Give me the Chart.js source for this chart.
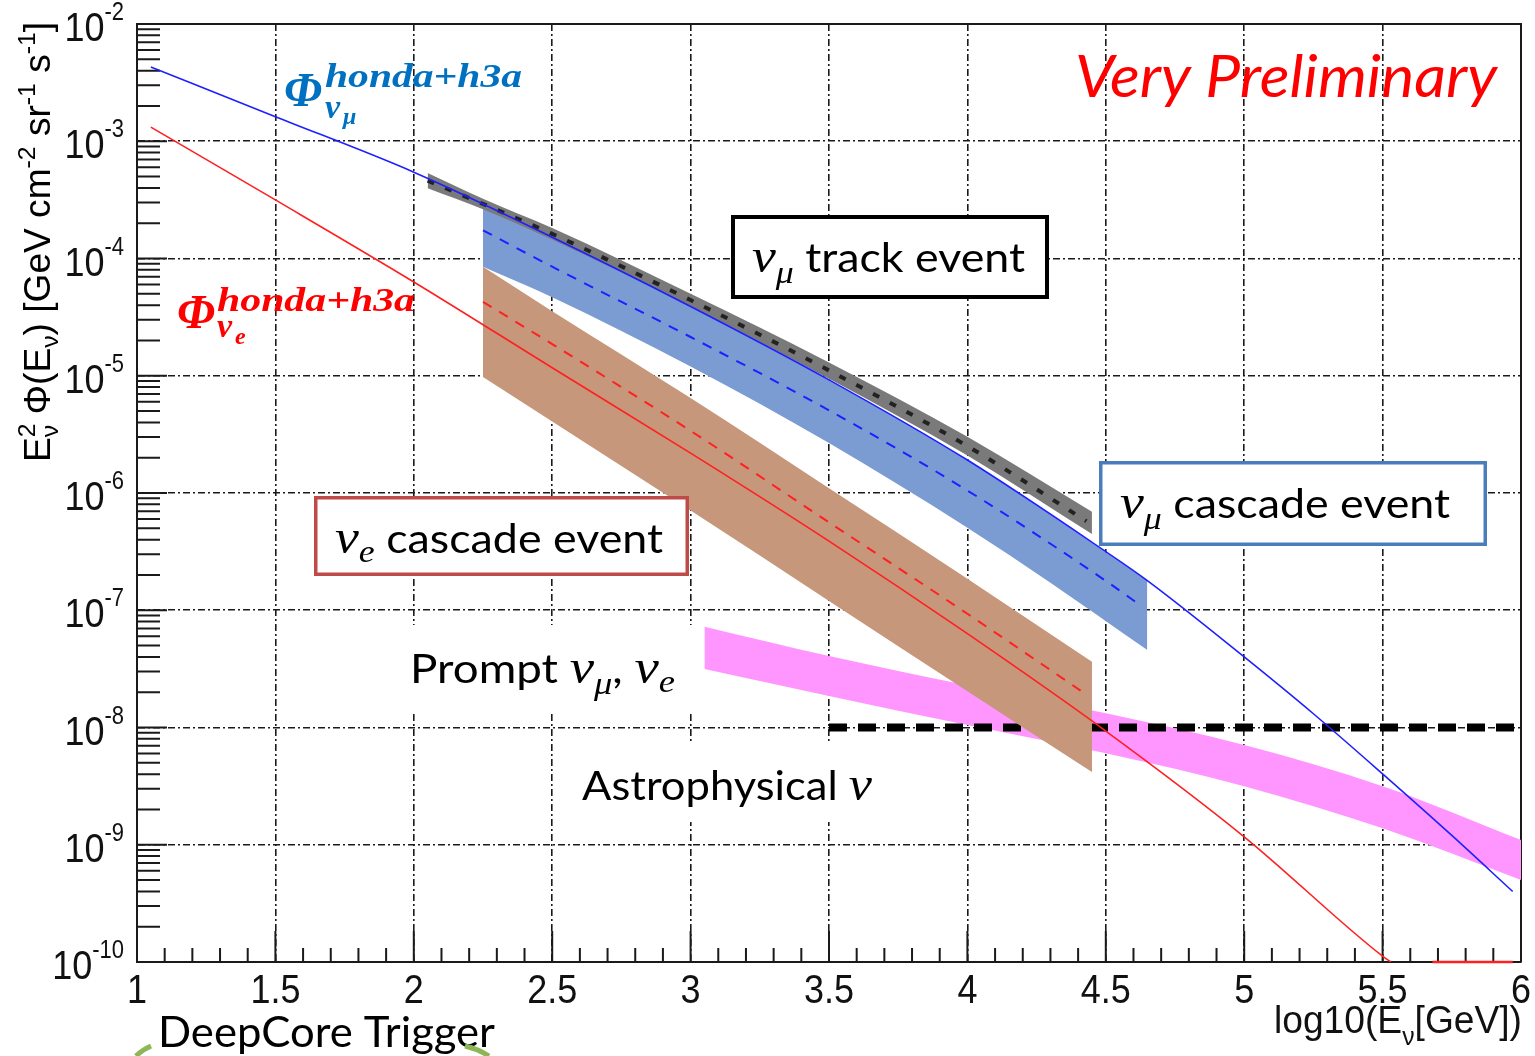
<!DOCTYPE html>
<html>
<head>
<meta charset="utf-8">
<script src="https://cdn.jsdelivr.net/npm/chart.js@4.4.1/dist/chart.umd.min.js"></script>
<style>
  html, body { margin: 0; padding: 0; background: #fff; }
  #wrap { width: 1535px; height: 1056px; position: relative; }
</style>
</head>
<body>
<div id="wrap"><canvas id="myChart"></canvas></div>
<script>
// axis ticks
const xTicks = [1, 1.5, 2, 2.5, 3, 3.5, 4, 4.5, 5, 5.5, 6];
const xTickLabels = ["1", "1.5", "2", "2.5", "3", "3.5", "4", "4.5", "5", "5.5", "6"];
const yTicks = [1e-2, 1e-3, 1e-4, 1e-5, 1e-6, 1e-7, 1e-8, 1e-9, 1e-10];
const yTickExp = ["-2", "-3", "-4", "-5", "-6", "-7", "-8", "-9", "-10"];

// conventional nu_mu flux (honda+h3a), blue
const numuX = [1.05, 1.5, 2.0, 2.5, 3.0, 3.5, 4.0, 4.5, 4.65, 5.0, 5.25, 5.5, 5.75, 5.97];
const numuY = [4.3e-3, 1.62e-3, 5.45e-4, 1.52e-4, 3.9e-5, 9.23e-6, 1.91e-6, 3.16e-7, 1.79e-7, 4.0e-8, 1.31e-8, 4.02e-9, 1.2e-9, 3.99e-10];

// conventional nu_e flux (honda+h3a), red
const nueX = [1.05, 1.5, 2.0, 2.5, 3.0, 3.5, 4.0, 4.5, 5.0, 5.5, 5.53];
const nueY = [1.32e-3, 3.16e-4, 6.31e-5, 1.17e-5, 2.19e-6, 3.89e-7, 6.31e-8, 9.33e-9, 1.17e-9, 1.12e-10, 1.0e-10];
const nueTailX = [5.68, 5.97];
const nueTailY = [1.0e-10, 1.0e-10];

// nu_mu track event band (grey) + its dashed centre
const trackX = [2.05, 2.25, 2.5, 3.0, 3.5, 4.0, 4.45];
const trackHi = [5.37e-4, 3.24e-4, 1.82e-4, 5.01e-5, 1.3e-5, 3.02e-6, 6.92e-7];
const trackLo = [3.98e-4, 2.63e-4, 1.45e-4, 3.89e-5, 9.44e-6, 2.09e-6, 4.47e-7];
const trackMidX = [2.05, 2.5, 3.0, 3.5, 4.0, 4.43];
const trackMid = [4.62e-4, 1.62e-4, 4.42e-5, 1.11e-5, 2.51e-6, 5.75e-7];

// nu_mu cascade event band (blue) + dashed centre
const cascMuX = [2.25, 2.5, 3.0, 3.5, 4.0, 4.3, 4.65];
const cascMuHi = [2.69e-4, 1.52e-4, 3.9e-5, 9.23e-6, 1.91e-6, 6.49e-7, 1.79e-7];
const cascMuLo = [8.51e-5, 4.68e-5, 1.2e-5, 2.67e-6, 5.06e-7, 1.72e-7, 4.57e-8];
const cascMuMidX = [2.25, 2.5, 3.0, 3.5, 4.0, 4.5, 4.63];
const cascMuMid = [1.74e-4, 8.51e-5, 2.14e-5, 5.07e-6, 1.05e-6, 1.78e-7, 1.08e-7];

// nu_e cascade event band (brown) + dashed centre
const cascEX = [2.25, 2.5, 3.0, 3.5, 4.0, 4.45];
const cascEHi = [8.51e-5, 3.55e-5, 6.46e-6, 1.1e-6, 1.86e-7, 3.63e-8];
const cascELo = [9.77e-6, 4.07e-6, 7.08e-7, 1.2e-7, 2.04e-8, 4.17e-9];
const cascEMidX = [2.25, 2.5, 3.0, 3.5, 4.0, 4.43];
const cascEMid = [4.27e-5, 1.86e-5, 3.39e-6, 5.62e-7, 9.33e-8, 1.91e-8];

// prompt band (magenta)
const promptX = [3.05, 3.5, 4.0, 4.5, 5.0, 5.5, 6.0];
const promptHi = [7.24e-8, 4.07e-8, 2.29e-8, 1.32e-8, 7.08e-9, 3.16e-9, 1.1e-9];
const promptLo = [3.16e-8, 1.86e-8, 1.05e-8, 6.03e-9, 3.16e-9, 1.38e-9, 5.01e-10];

// astrophysical
const astroX = [3.5, 6.0];
const astroY = [1e-8, 1e-8];

const pts = (xs, ys) => xs.map((x, i) => ({ x: x, y: ys[i] }));

function line(xs, ys, color, width, dash, order, extra) {
  return Object.assign({
    data: pts(xs, ys), borderColor: color, borderWidth: width, borderDash: dash || [],
    pointRadius: 0, fill: false, cubicInterpolationMode: "monotone", order: order,
  }, extra || {});
}

function band(xs, hi, lo, color, order) {
  return [
    { data: pts(xs, hi), borderColor: "transparent", borderWidth: 0, pointRadius: 0, fill: false,
      cubicInterpolationMode: "monotone", order: order },
    { data: pts(xs, lo), borderColor: "transparent", borderWidth: 0, pointRadius: 0, fill: "-1",
      backgroundColor: color, cubicInterpolationMode: "monotone", order: order },
  ];
}

const SANS = '"Liberation Sans", Arial, sans-serif';
const SLIDE = 'Lato, "Open Sans", sans-serif';
const MATH = '"Liberation Serif", serif';

// draws a run of text pieces left to right, optionally squeezed to a given width
function run(ctx, parts, x, y, width, sy) {
  ctx.save();
  let total = 0;
  parts.forEach((p) => {
    ctx.font = p.f;
    p.w = ctx.measureText(p.t).width;
    if (!p.stay) total += p.w;
  });
  const sx = width ? width / total : 1;
  ctx.translate(x, y);
  ctx.scale(sx, sy || 1);
  ctx.textBaseline = "alphabetic";
  ctx.textAlign = "left";
  let cx = 0;
  parts.forEach((p) => {
    ctx.font = p.f;
    ctx.fillStyle = p.c || "#000";
    ctx.fillText(p.t, cx, p.dy || 0);
    if (!p.stay) cx += p.w;
  });
  ctx.restore();
}

function box(ctx, x0, y0, x1, y1, color, lw) {
  ctx.save();
  ctx.fillStyle = "#fff";
  ctx.fillRect(x0, y0, x1 - x0, y1 - y0);
  ctx.lineWidth = lw;
  ctx.strokeStyle = color;
  ctx.strokeRect(x0 + lw / 2, y0 + lw / 2, x1 - x0 - lw, y1 - y0 - lw);
  ctx.restore();
}

const rootFrame = {
  id: "rootFrame",
  beforeDatasetsDraw(chart) {
    const { ctx, chartArea: a, scales: { x, y } } = chart;
    ctx.save();
    ctx.strokeStyle = "#1a1a1a";
    ctx.lineWidth = 2;
    ctx.beginPath();
    ctx.moveTo(a.left, a.top);
    ctx.lineTo(a.right, a.top);
    ctx.lineTo(a.right, a.bottom);
    for (let i = 10; i <= 60; i++) {
      const px = x.getPixelForValue(i / 10);
      const len = i % 5 === 0 ? 31 : 14;
      ctx.moveTo(px, a.bottom);
      ctx.lineTo(px, a.bottom - len);
    }
    for (let e = -10; e <= -2; e++) {
      for (let m = 1; m < 10; m++) {
        if (e === -2 && m > 1) break;
        const py = y.getPixelForValue(m * Math.pow(10, e));
        const len = m === 1 ? 30 : 23;
        ctx.moveTo(a.left, py);
        ctx.lineTo(a.left + len, py);
      }
    }
    ctx.stroke();
    ctx.restore();
  },
  afterDraw(chart) {
    const { ctx, scales: { x, y } } = chart;

    // tick labels
    yTicks.forEach((v, i) => {
      const py = y.getPixelForValue(v);
      ctx.font = "22px " + SANS;
      const w = ctx.measureText(yTickExp[i]).width;
      run(ctx, [{ t: yTickExp[i], f: "22px " + SANS, c: "#111" }], 124 - w, py - 4, null, 1.15);
      ctx.font = "36px " + SANS;
      const w10 = ctx.measureText("10").width;
      run(ctx, [{ t: "10", f: "36px " + SANS, c: "#111" }], 124 - w - w10, py + 17, null, 1.15);
    });
    xTicks.forEach((v, i) => {
      const px = x.getPixelForValue(v);
      ctx.font = "36px " + SANS;
      const w = ctx.measureText(xTickLabels[i]).width;
      run(ctx, [{ t: xTickLabels[i], f: "36px " + SANS, c: "#111" }], px - w / 2, 1003, null, 1.15);
    });

    // axis titles
    ctx.save();
    ctx.translate(50, 462);
    ctx.rotate(-Math.PI / 2);
    const tf = "36px " + SANS, sf = "24px " + SANS;
    run(ctx, [
      { t: "E", f: tf },
      { t: "2", f: sf, dy: -15, stay: true },
      { t: "ν", f: sf, dy: 8 },
      { t: " Φ(E", f: tf },
      { t: "ν", f: sf, dy: 8 },
      { t: ") [GeV cm", f: tf },
      { t: "-2", f: sf, dy: -15 },
      { t: " sr", f: tf },
      { t: "-1", f: sf, dy: -15 },
      { t: " s", f: tf },
      { t: "-1", f: sf, dy: -15 },
      { t: "]", f: tf },
    ], 0, 0, 440);
    ctx.restore();
    run(ctx, [
      { t: "log10(E", f: tf, c: "#111" },
      { t: "ν", f: sf, dy: 11, c: "#111" },
      { t: "[GeV])", f: tf, c: "#111" },
    ], 1274, 1033, 248, 1.1);

    // physics labels
    const blue = "#0070C0", red = "#ff0000";
    run(ctx, [{ t: "Φ", f: "bold italic 48px " + MATH, c: blue }], 284, 106, 38);
    run(ctx, [{ t: "honda+h3a", f: "bold italic 34px " + MATH, c: blue }], 325, 87, 197);
    run(ctx, [{ t: "ν", f: "bold italic 34px " + MATH, c: blue }], 325, 118);
    run(ctx, [{ t: "μ", f: "bold italic 24px " + MATH, c: blue }], 343, 124);

    run(ctx, [{ t: "Φ", f: "bold italic 48px " + MATH, c: red }], 177, 328, 38);
    run(ctx, [{ t: "honda+h3a", f: "bold italic 34px " + MATH, c: red }], 217, 311, 198);
    run(ctx, [{ t: "ν", f: "bold italic 34px " + MATH, c: red }], 217, 337);
    run(ctx, [{ t: "e", f: "bold italic 24px " + MATH, c: red }], 235, 344);

    run(ctx, [{ t: "Very Preliminary", f: "italic 58px " + SLIDE, c: red }], 1075, 97, 422);

    // event boxes
    const nu = "italic 48px " + MATH, sub = "italic 32px " + MATH, body = "40px " + SLIDE;
    box(ctx, 731, 215, 1049, 299, "#000", 4);
    run(ctx, [{ t: "ν", f: nu }, { t: "μ", f: sub, dy: 11 }, { t: " track event", f: body }], 752, 272, 273);
    box(ctx, 1099, 461, 1487, 546, "#4A7EBB", 3.5);
    run(ctx, [{ t: "ν", f: nu }, { t: "μ", f: sub, dy: 11 }, { t: " cascade event", f: body }], 1120, 518, 330);
    box(ctx, 314, 496, 689, 576, "#BE4B48", 3.5);
    run(ctx, [{ t: "ν", f: nu }, { t: "e", f: sub, dy: 9 }, { t: " cascade event", f: body }], 335, 553, 328);

    ctx.save();
    ctx.fillStyle = "#fff";
    ctx.fillRect(400, 625, 302, 86);
    ctx.fillRect(575, 744, 300, 78);
    ctx.restore();
    run(ctx, [
      { t: "Prompt ", f: body },
      { t: "ν", f: nu }, { t: "μ", f: sub, dy: 11 },
      { t: ", ", f: body },
      { t: "ν", f: nu }, { t: "e", f: sub, dy: 9 },
    ], 410, 683, 265);
    run(ctx, [{ t: "Astrophysical ", f: body }, { t: "ν", f: nu }], 582, 800, 290);

    run(ctx, [{ t: "DeepCore Trigger", f: "42px " + SLIDE }], 158, 1047, 337);

    ctx.save();
    ctx.strokeStyle = "#8DB657";
    ctx.lineWidth = 5;
    ctx.beginPath();
    ctx.moveTo(136, 1056);
    ctx.quadraticCurveTo(142, 1050, 151, 1046);
    ctx.moveTo(465, 1046);
    ctx.quadraticCurveTo(478, 1049, 489, 1056);
    ctx.stroke();
    ctx.restore();
  },
};

const gridDash = [7, 3, 2, 3];

new Chart(document.getElementById("myChart"), {
  type: "line",
  data: {
    datasets: [
      line(numuX, numuY, "#1f1fff", 1.6, [], 1),
      line(nueX, nueY, "#ff2020", 1.6, [], 1),
      line(nueTailX, nueTailY, "#ff2020", 2.5, [], 1, { clip: 4 }),
      line(cascMuMidX, cascMuMid, "#1f1fff", 2, [10, 9], 2),
      line(cascEMidX, cascEMid, "#ff2020", 2, [10, 9], 2),
      line(trackMidX, trackMid, "#222222", 4, [7, 12], 3),
      ...band(cascEX, cascEHi, cascELo, "#C6977B", 4),
      ...band(trackX, trackHi, trackLo, "#7a7a7a", 5),
      ...band(cascMuX, cascMuHi, cascMuLo, "#7B9BD3", 6),
      line(astroX, astroY, "#000000", 8, [18, 11], 7, { cubicInterpolationMode: "default" }),
      ...band(promptX, promptHi, promptLo, "#FF96FF", 8),
    ],
  },
  options: {
    responsive: true,
    maintainAspectRatio: false,
    animation: false,
    layout: { padding: { left: 137, right: 14, top: 24, bottom: 94 } },
    plugins: {
      legend: { display: false },
      tooltip: { enabled: false },
    },
    scales: {
      x: {
        type: "linear",
        min: 1,
        max: 6,
        afterBuildTicks: (axis) => { axis.ticks = xTicks.map((v) => ({ value: v })); },
        ticks: { display: false },
        grid: { color: "#1a1a1a", lineWidth: 1.6, drawTicks: false },
        border: { display: true, color: "#1a1a1a", width: 2, dash: gridDash },
      },
      y: {
        type: "logarithmic",
        min: 1e-10,
        max: 1e-2,
        afterBuildTicks: (axis) => { axis.ticks = yTicks.map((v) => ({ value: v })); },
        ticks: { display: false },
        grid: { color: "#1a1a1a", lineWidth: 1.6, drawTicks: false },
        border: { display: true, color: "#1a1a1a", width: 2, dash: gridDash },
      },
    },
  },
  plugins: [rootFrame],
});
</script>
</body>
</html>
